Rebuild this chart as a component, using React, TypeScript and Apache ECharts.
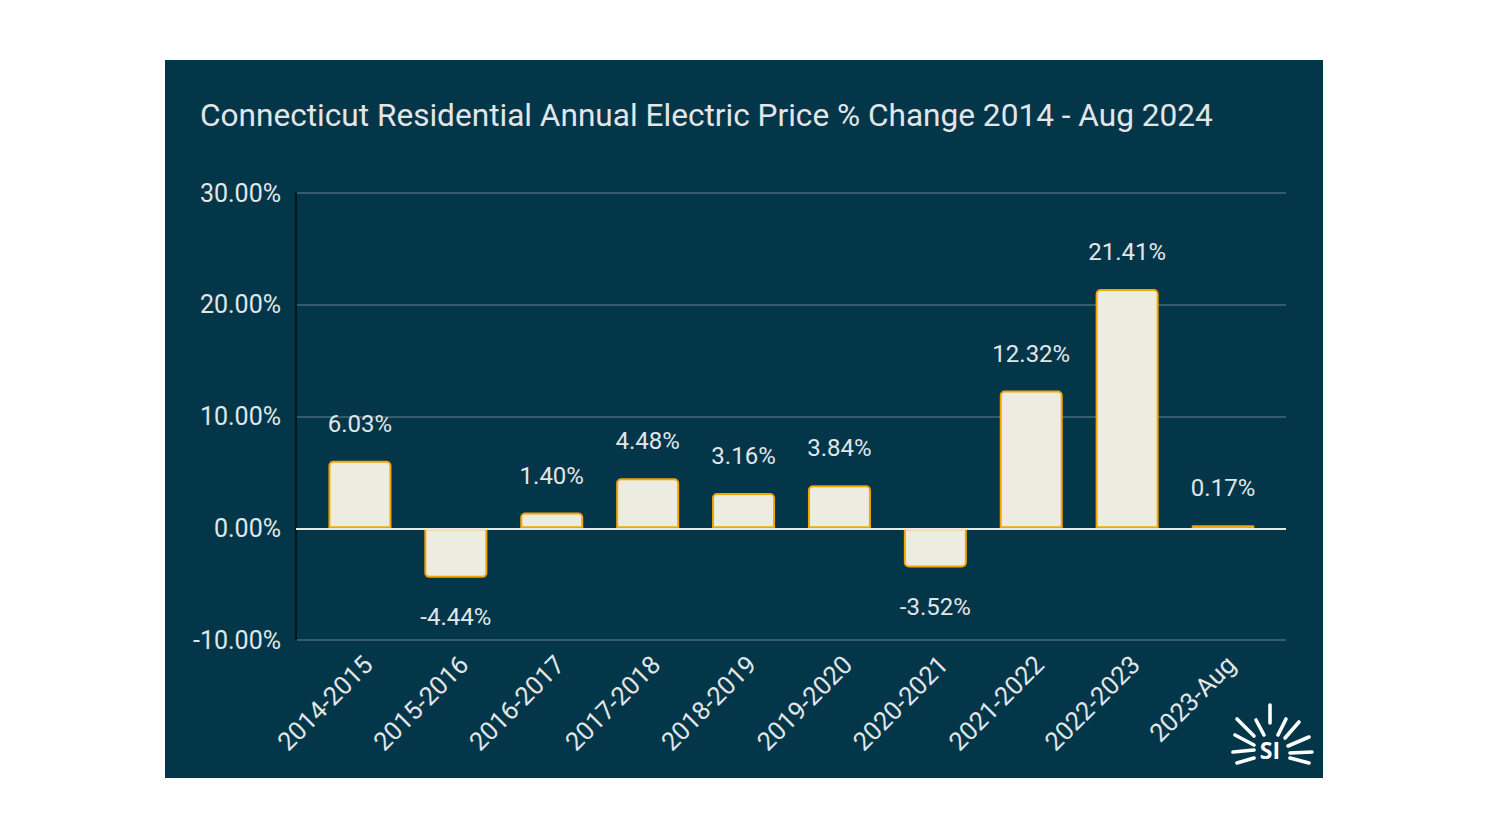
import React, { useEffect, useRef } from "react";
import * as echarts from "echarts";

const categories = [
  "2014-2015", "2015-2016", "2016-2017", "2017-2018", "2018-2019",
  "2019-2020", "2020-2021", "2021-2022", "2022-2023", "2023-Aug",
];
const pctChange = [6.03, -4.44, 1.4, 4.48, 3.16, 3.84, -3.52, 12.32, 21.41, 0.17];
const yTicks = { min: -10, max: 30, interval: 10 };

const BG = "#04364a";
const TXT = "#e2e6e8";
const GRID = "#46697a";

const rays: number[][] = [
  [1105, 645, 1105, 663],
  [1091, 660, 1099, 675],
  [1072, 659, 1089, 676],
  [1070, 675, 1089, 685],
  [1068, 692, 1089, 690],
  [1072, 703, 1089, 698],
  [1121, 659, 1113, 675],
  [1134, 662, 1120, 678],
  [1144, 677, 1123, 686],
  [1147, 692, 1125, 693],
  [1144, 703, 1125, 698],
];

export default function App() {
  const ref = useRef<HTMLDivElement>(null);
  useEffect(() => {
    if (!ref.current) return;
    const chart = echarts.init(ref.current, undefined, { renderer: "svg" });
    const font = "Roboto";
    chart.setOption({
      animation: false,
      backgroundColor: BG,
      title: {
        text: "Connecticut Residential Annual Electric Price % Change 2014 - Aug 2024",
        left: 30,
        top: 34,
        textStyle: { color: TXT, fontSize: 31.6, fontWeight: "normal", fontFamily: font },
      },
      grid: [
        { left: 147, right: 52, top: 133, bottom: 138 },
        { left: 131, right: 37, top: 133, bottom: 138 },
        { left: 155, right: 44, top: 133, bottom: 138 },
      ],
      xAxis: [
        { gridIndex: 0, type: "category", data: categories, show: false },
        { gridIndex: 1, type: "category", data: categories, show: false },
        {
          gridIndex: 2,
          type: "category",
          data: categories,
          axisLine: { show: false },
          axisTick: { show: false },
          axisLabel: {
            rotate: 45,
            interval: 0,
            margin: 20,
            color: TXT,
            fontSize: 25.5,
            fontFamily: font,
          },
        },
      ],
      yAxis: [
        { gridIndex: 0, type: "value", ...yTicks, show: false, splitLine: { show: false } },
        {
          gridIndex: 1,
          type: "value",
          ...yTicks,
          axisLine: { show: true, lineStyle: { color: "#02141c", width: 2 } },
          axisTick: { show: false },
          axisLabel: {
            color: TXT,
            fontSize: 25,
            fontFamily: font,
            margin: 15,
            formatter: (v: number) => v.toFixed(2) + "%",
          },
          splitLine: { show: true, lineStyle: { color: GRID, width: 1.5 } },
        },
        { gridIndex: 2, type: "value", ...yTicks, show: false, splitLine: { show: false } },
      ],
      series: [
        {
          type: "line",
          xAxisIndex: 1,
          yAxisIndex: 1,
          data: [],
          silent: true,
          markLine: {
            symbol: "none",
            silent: true,
            label: { show: false },
            lineStyle: { color: "#e6e9ea", width: 2, type: "solid" },
            data: [{ yAxis: 0 }],
          },
        },
        {
          type: "bar",
          xAxisIndex: 0,
          yAxisIndex: 0,
          barWidth: 63,
          barMinHeight: 3,
          z: 3,
          data: pctChange.map((v) => ({
            value: v,
            label: { position: v < 0 ? "bottom" : "top", distance: v < 0 ? 27 : 25 },
            itemStyle: {
              borderRadius: Math.abs(v) < 1 ? 1 : v < 0 ? [0, 0, 4, 4] : [4, 4, 0, 0],
            },
          })),
          itemStyle: { color: "#ecede0", borderColor: "#f3a500", borderWidth: 2 },
          label: {
            show: true,
            color: TXT,
            fontSize: 24,
            fontFamily: font,
            formatter: (p: any) => Number(p.value).toFixed(2) + "%",
          },
        },
      ],
      graphic: [
        {
          type: "group",
          children: [
            ...rays.map((r) => ({
              type: "line",
              shape: { x1: r[0], y1: r[1], x2: r[2], y2: r[3] },
              style: { stroke: "#ffffff", lineWidth: 3.6, lineCap: "round" },
            })),
            {
              type: "text",
              x: 1105,
              y: 690,
              style: {
                text: "SI",
                fill: "#ffffff",
                font: "bold 23px 'Open Sans', sans-serif",
                align: "center",
                verticalAlign: "middle",
              },
            },
          ],
        },
      ],
    });
    return () => chart.dispose();
  }, []);
  return (
    <div style={{ position: "fixed", left: 0, top: 0, width: 1488, height: 837, background: "#ffffff" }}>
      <div
        ref={ref}
        style={{ position: "absolute", left: 165, top: 60, width: 1158, height: 718 }}
      />
    </div>
  );
}
